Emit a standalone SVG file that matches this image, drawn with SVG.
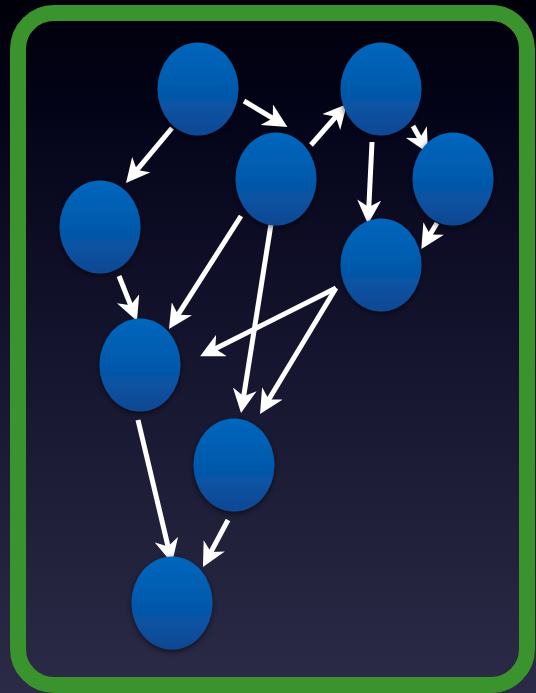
<svg xmlns="http://www.w3.org/2000/svg" width="536" height="693" viewBox="0 0 536 693">
  <defs>
    <linearGradient id="bg" x1="0" y1="0" x2="0" y2="1">
      <stop offset="0" stop-color="#00000a"/>
      <stop offset="0.15" stop-color="#030318"/>
      <stop offset="0.5" stop-color="#15142e"/>
      <stop offset="1" stop-color="#2c2b47"/>
    </linearGradient>
    <linearGradient id="nodeFill" x1="0" y1="0" x2="0" y2="1">
      <stop offset="0" stop-color="#0067bd"/>
      <stop offset="0.55" stop-color="#0558aa"/>
      <stop offset="1" stop-color="#0d4893"/>
    </linearGradient>
    <filter id="shadow" x="-30%" y="-30%" width="160%" height="160%">
      <feDropShadow dx="0" dy="2" stdDeviation="3" flood-color="#000" flood-opacity="0.6"/>
    </filter>
    <marker id="head" markerUnits="userSpaceOnUse" viewBox="0 0 24 24" markerWidth="24" markerHeight="24" refX="12" refY="12" orient="auto">
      <path d="M0,0 L24,12 L0,24 L7,12 Z" fill="#ffffff"/>
    </marker>
  </defs>
  <style>
    .node { fill: url(#nodeFill); filter: url(#shadow); }
    .edge { stroke: #ffffff; stroke-width: 5; fill: none; marker-end: url(#head); }
  </style>
  <rect x="0" y="0" width="536" height="693" fill="url(#bg)"/>
  <rect id="frame" x="18" y="13" width="509" height="672" rx="36" ry="36" fill="none" stroke="#3b932d" stroke-width="16"/>

  <g id="connectors">
    <line class="edge" x1="172" y1="128" x2="133.7" y2="173.8"/>
    <line class="edge" x1="244" y1="101" x2="277.1" y2="120.8"/>
    <line class="edge" x1="311" y1="145" x2="339.1" y2="113"/>
    <line class="edge" x1="413" y1="126" x2="422.2" y2="142.5"/>
    <line class="edge" x1="372" y1="142" x2="368.6" y2="212"/>
    <line class="edge" x1="437" y1="223" x2="427.5" y2="238.8"/>
    <line class="edge" x1="241" y1="216" x2="175.4" y2="318.9"/>
    <line class="edge" x1="271" y1="224" x2="242.9" y2="401.2"/>
    <line class="edge" x1="336" y1="288" x2="210.8" y2="350.9"/>
    <line class="edge" x1="336" y1="288" x2="266.2" y2="403.7"/>
    <line class="edge" x1="119" y1="276" x2="132.5" y2="309.9"/>
    <line class="edge" x1="138" y1="420" x2="169.2" y2="551.3"/>
    <line class="edge" x1="228" y1="520" x2="208.6" y2="556.4"/>
  </g>

  <g id="n1"><ellipse class="node" cx="198" cy="89" rx="40.5" ry="46.5"/></g>
  <g id="n2"><ellipse class="node" cx="381" cy="89" rx="40.5" ry="46.5"/></g>
  <g id="n3"><ellipse class="node" cx="276" cy="179" rx="40.5" ry="46.5"/></g>
  <g id="n4"><ellipse class="node" cx="453" cy="179" rx="40.5" ry="46.5"/></g>
  <g id="n5"><ellipse class="node" cx="100" cy="227" rx="40.5" ry="46.5"/></g>
  <g id="n6"><ellipse class="node" cx="381" cy="265" rx="40.5" ry="46.5"/></g>
  <g id="n7"><ellipse class="node" cx="140" cy="365" rx="40.5" ry="46.5"/></g>
  <g id="n8"><ellipse class="node" cx="234" cy="465" rx="40.5" ry="46.5"/></g>
  <g id="n9"><ellipse class="node" cx="172" cy="603" rx="40.5" ry="46.5"/></g>
</svg>
